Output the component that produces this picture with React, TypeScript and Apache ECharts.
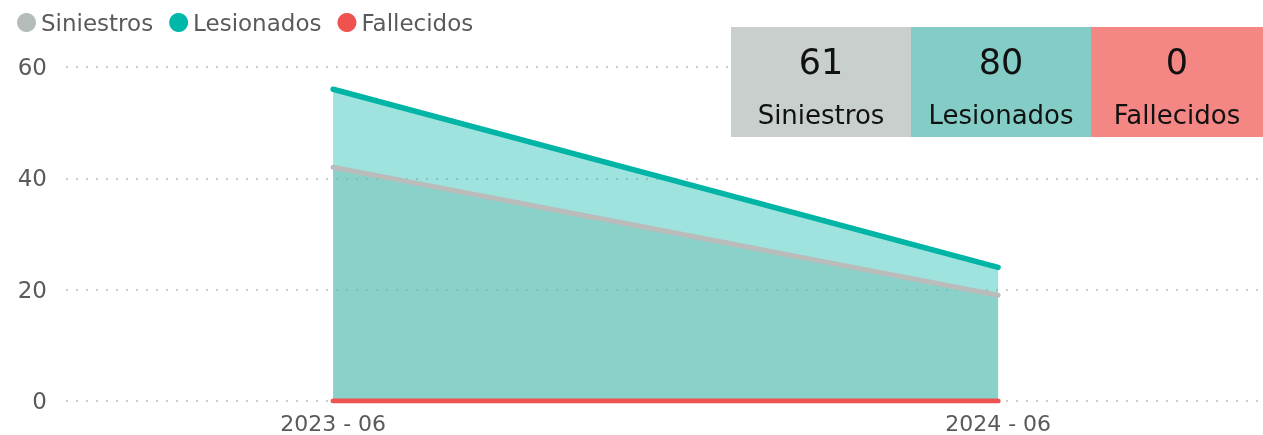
import React, { useEffect, useRef } from "react";
import * as echarts from "echarts";

const periods = ["2023 - 06", "2024 - 06"];
const periodX = [0, 12];
const siniestros = [42, 19];
const lesionados = [56, 24];
const fallecidos = [0, 0];
const yTicks = [0, 20, 40, 60];

const FONT = "'DejaVu Sans', 'Open Sans', sans-serif";

export default function App() {
  const ref = useRef<HTMLDivElement>(null);
  useEffect(() => {
    if (!ref.current) return;
    const chart = echarts.init(ref.current, undefined, { renderer: "svg" });
    const sum = (a: number[]) => a.reduce((s, v) => s + v, 0);
    const pts = (vals: number[]) => vals.map((v, i) => [periodX[i], v]);
    const boxes = [
      { label: "Siniestros", value: sum(siniestros), color: "#c9cfcc", x: 731, w: 180 },
      { label: "Lesionados", value: sum(lesionados), color: "#84cdc6", x: 911, w: 180 },
      { label: "Fallecidos", value: sum(fallecidos), color: "#f48683", x: 1091, w: 172 },
    ];
    const graphic: any[] = [];
    boxes.forEach((b) => {
      graphic.push({ type: "rect", left: b.x, top: 27, z: 100, shape: { width: b.w, height: 110 }, style: { fill: b.color } });
      graphic.push({
        type: "text", x: b.x + b.w / 2, y: 62, z: 101,
        style: { text: String(b.value), fill: "#111", font: `35px ${FONT}`, textAlign: "center", textVerticalAlign: "middle" },
      });
      graphic.push({
        type: "text", x: b.x + b.w / 2, y: 115, z: 101,
        style: { text: b.label, fill: "#111", font: `26px ${FONT}`, textAlign: "center", textVerticalAlign: "middle" },
      });
    });
    chart.setOption({
      animation: false,
      textStyle: { fontFamily: FONT },
      legend: {
        left: 12, top: 6, icon: "circle", itemWidth: 19, itemHeight: 19, itemGap: 16,
        textStyle: { fontSize: 23, color: "#5a5a5a", fontFamily: FONT, padding: [0, 0, 0, 0] },
        data: ["Siniestros", "Lesionados", "Fallecidos"],
      },
      grid: { left: 66, right: 5, top: 67, bottom: 34, containLabel: false },
      xAxis: {
        type: "value",
        min: -4.82,
        max: 16.69,
        axisLine: { show: false },
        axisTick: { show: false },
        splitLine: { show: false },
        axisLabel: {
          customValues: periodX,
          formatter: (v: number) => periods[periodX.indexOf(v)] ?? "",
          fontSize: 22, color: "#5a5a5a", margin: 11, fontFamily: FONT,
        },
      },
      yAxis: {
        type: "value", min: 0, max: 60, interval: 20,
        axisLine: { show: false }, axisTick: { show: false },
        axisLabel: {
          fontSize: 23, color: "#5a5a5a", margin: 19, fontFamily: FONT,
          formatter: (v: number) => (yTicks.includes(v) ? String(v) : ""),
        },
        splitLine: { show: true, lineStyle: { color: "#cccccc", width: 2, type: [2, 8] } },
      },
      series: [
        {
          name: "Siniestros", type: "line", data: pts(siniestros), symbol: "none", z: 3,
          itemStyle: { color: "#b4bdba" },
          lineStyle: { color: "#b9bcbb", width: 5, cap: "round" },
          areaStyle: { color: "rgba(115,191,182,0.5)", opacity: 1 },
        },
        {
          name: "Lesionados", type: "line", data: pts(lesionados), symbol: "none", z: 2,
          itemStyle: { color: "#00b8a9" },
          lineStyle: { color: "#00b5a5", width: 5.5, cap: "round" },
          areaStyle: { color: "rgba(0,181,165,0.38)", opacity: 1 },
        },
        {
          name: "Fallecidos", type: "line", data: pts(fallecidos), symbol: "none", z: 4,
          itemStyle: { color: "#ef5350" },
          lineStyle: { color: "#ef5350", width: 5, cap: "round" },
        },
      ],
      graphic,
    });
    return () => chart.dispose();
  }, []);
  return <div ref={ref} style={{ position: "fixed", left: 0, top: 0, width: 1263, height: 435 }} />;
}
